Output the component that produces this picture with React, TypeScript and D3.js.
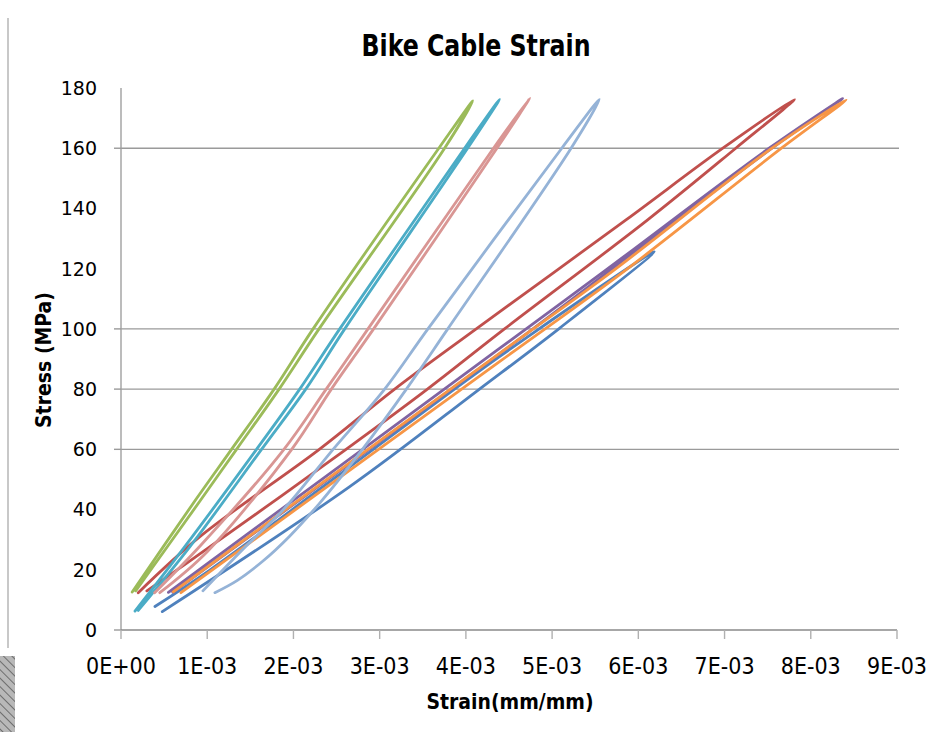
import React from "react";
import * as d3 from "d3";

// ---------- data (strain in mm/mm, stress in MPa) ----------
const xTickValues = [0, 0.001, 0.002, 0.003, 0.004, 0.005, 0.006, 0.007, 0.008, 0.009];
const xTickLabels = ["0E+00", "1E-03", "2E-03", "3E-03", "4E-03", "5E-03", "6E-03", "7E-03", "8E-03", "9E-03"];
const yTickValues = [0, 20, 40, 60, 80, 100, 120, 140, 160, 180];
const yTickLabels = ["0", "20", "40", "60", "80", "100", "120", "140", "160", "180"];
const yTickMarks = [0, 60, 80, 100, 160];
const yGridLines = [60, 80, 100, 160];

const blueStrain = [0.394e-3, 1.03e-3, 2.5e-3, 4.39e-3, 6.185e-3, 5.085e-3, 4.158e-3, 2.653e-3, 0.479e-3];
const blueStress = [7.8, 19.9, 50.9, 90.8, 125.6, 100.2, 80, 47.6, 6.1];

const redStrain = [0.2e-3, 0.915e-3, 2.3e-3, 3.174e-3, 4.12e-3, 5.857e-3, 6.98e-3, 7.81e-3, 7.13e-3, 6.108e-3, 4.448e-3, 3.554e-3, 2.61e-3, 1.0e-3, 0.3e-3];
const redStress = [12.4, 31, 60, 80, 100, 136.2, 160, 176.2, 160, 136.2, 100, 80, 60, 27, 13];

const greenStrain = [0.13e-3, 0.86e-3, 1.282e-3, 1.776e-3, 2.228e-3, 3.686e-3, 4.08e-3, 3.753e-3, 2.297e-3, 1.834e-3, 1.34e-3, 0.92e-3, 0.17e-3];
const greenStress = [12.6, 43, 60, 80, 100, 160, 175.7, 160, 100, 80, 60, 43, 13];

const purpleStrain = [0.55e-3, 4.39e-3, 5.626e-3, 7.517e-3, 8.37e-3, 7.55e-3, 5.68e-3, 4.45e-3, 0.6e-3];
const purpleStress = [12.5, 93.5, 119.6, 160, 176.5, 160, 119.6, 93, 12.5];

const tealStrain = [0.162e-3, 0.74e-3, 1.572e-3, 2.073e-3, 2.537e-3, 3.985e-3, 4.39e-3, 4.02e-3, 2.595e-3, 2.143e-3, 1.63e-3, 0.8e-3, 0.2e-3];
const tealStress = [6.3, 27.7, 60, 80, 100, 160, 176.2, 160, 100, 80, 60, 27.7, 6.5];

const orangeStrain = [0.606e-3, 4.39e-3, 5.722e-3, 7.55e-3, 8.41e-3, 7.66e-3, 5.857e-3, 4.39e-3, 0.695e-3];
const orangeStress = [12.7, 91.9, 119.6, 160, 176, 160, 119.6, 89.1, 12.4];

const lightBlueStrain = [0.95e-3, 1.42e-3, 1.9e-3, 2.46e-3, 3.058e-3, 3.56e-3, 5.112e-3, 5.548e-3, 5.22e-3, 3.79e-3, 3.31e-3, 2.8e-3, 2.3e-3, 1.95e-3, 1.65e-3, 1.35e-3, 1.089e-3];
const lightBlueStress = [13, 27, 40.5, 60, 80, 100, 160, 176.2, 160, 100, 80, 60, 42, 31, 23, 16.5, 12.4];

const pinkStrain = [0.39e-3, 0.92e-3, 1.89e-3, 2.38e-3, 2.865e-3, 4.32e-3, 4.74e-3, 4.36e-3, 2.93e-3, 2.44e-3, 1.98e-3, 1.0e-3, 0.45e-3];
const pinkStress = [12.4, 28, 60, 80, 100, 160, 176.6, 160, 100, 80, 60, 26, 12.4];

const series = [
  { name: "blue", strain: blueStrain, stress: blueStress, color: "#4F81BD" },
  { name: "red", strain: redStrain, stress: redStress, color: "#C0504D" },
  { name: "green", strain: greenStrain, stress: greenStress, color: "#9BBB59" },
  { name: "purple", strain: purpleStrain, stress: purpleStress, color: "#8064A2" },
  { name: "teal", strain: tealStrain, stress: tealStress, color: "#4BACC6" },
  { name: "orange", strain: orangeStrain, stress: orangeStress, color: "#F79646" },
  { name: "lightblue", strain: lightBlueStrain, stress: lightBlueStress, color: "#95B3D7" },
  { name: "pink", strain: pinkStrain, stress: pinkStress, color: "#D99694" },
];

const W = 929;
const H = 732;
const left = 121;
const right = 897;
const top = 88;
const bottom = 630;

export default function App() {
  const x = d3.scaleLinear().domain([0, 0.009]).range([left, right]);
  const y = d3.scaleLinear().domain([0, 180]).range([bottom, top]);
  const line = d3
    .line<[number, number]>()
    .x((d) => x(d[0]))
    .y((d) => y(d[1]))
    .curve(d3.curveCatmullRom.alpha(0.5));

  const narrow = "'Liberation Sans Narrow', 'DejaVu Sans Condensed', 'Open Sans', sans-serif";

  return (
    <svg
      width={W}
      height={H}
      style={{ position: "absolute", left: 0, top: 0, background: "#fff" }}
    >
      <defs>
        <pattern id="hatch" width="6" height="6" patternUnits="userSpaceOnUse" patternTransform="rotate(-45)">
          <rect width="6" height="6" fill="#b8b8b8" />
          <line x1="0" y1="0" x2="0" y2="6" stroke="#6e6e6e" strokeWidth="2" />
        </pattern>
      </defs>
      <rect x={0} y={0} width={W} height={H} fill="#fff" />
      {/* left artifact */}
      <line x1={8} y1={18} x2={8} y2={648} stroke="#c8c8c8" strokeWidth={2} />
      <rect x={0} y={656} width={15} height={76} fill="url(#hatch)" />

      {/* title */}
      <text
        x={476}
        y={56}
        textAnchor="middle"
        fontFamily={narrow}
        fontWeight="bold"
        fontSize={30}
        textLength={229}
        lengthAdjust="spacingAndGlyphs"
        fill="#000"
      >
        Bike Cable Strain
      </text>

      {/* gridlines */}
      {yGridLines.map((v) => (
        <line key={"g" + v} x1={left} x2={right + 2} y1={y(v)} y2={y(v)} stroke="#9a9a9a" strokeWidth={1.4} />
      ))}

      {/* axes */}
      <line x1={left} x2={left} y1={top} y2={bottom} stroke="#a0a0a0" strokeWidth={1.4} />
      <line x1={left} x2={right} y1={bottom} y2={bottom} stroke="#8a8a8a" strokeWidth={1.6} />
      {yTickMarks.map((v) => (
        <line key={"ym" + v} x1={left - 7} x2={left} y1={y(v)} y2={y(v)} stroke="#9a9a9a" strokeWidth={1.4} />
      ))}
      {xTickValues.map((v) => (
        <line key={"xm" + v} x1={x(v)} x2={x(v)} y1={bottom} y2={bottom + 9} stroke="#b0b0b0" strokeWidth={1.4} />
      ))}

      {/* tick labels */}
      {yTickValues.map((v, i) => (
        <text
          key={"yl" + v}
          x={97}
          y={y(v)}
          dy="0.36em"
          textAnchor="end"
          fontFamily="'DejaVu Sans', sans-serif"
          fontSize={19}
          fill="#000"
        >
          {yTickLabels[i]}
        </text>
      ))}
      {xTickValues.map((v, i) => (
        <text
          key={"xl" + v}
          x={x(v)}
          y={674}
          textAnchor="middle"
          fontFamily={narrow}
          fontSize={23}
          fill="#000"
        >
          {xTickLabels[i]}
        </text>
      ))}

      {/* axis titles */}
      <text
        x={510}
        y={709}
        textAnchor="middle"
        fontFamily={narrow}
        fontWeight="bold"
        fontSize={22}
        textLength={167}
        lengthAdjust="spacingAndGlyphs"
        fill="#000"
      >
        Strain(mm/mm)
      </text>
      <text
        transform={`translate(51, 360) rotate(-90)`}
        textAnchor="middle"
        fontFamily={narrow}
        fontWeight="bold"
        fontSize={22}
        textLength={136}
        lengthAdjust="spacingAndGlyphs"
        fill="#000"
      >
        Stress (MPa)
      </text>

      {/* series */}
      {series.map((s) => {
        const pts: [number, number][] = s.strain.map((e, i) => [e, s.stress[i]]);
        return (
          <path
            key={s.name}
            d={line(pts) || ""}
            fill="none"
            stroke={s.color}
            strokeWidth={2.8}
            strokeLinejoin="round"
            strokeLinecap="round"
          />
        );
      })}
    </svg>
  );
}
